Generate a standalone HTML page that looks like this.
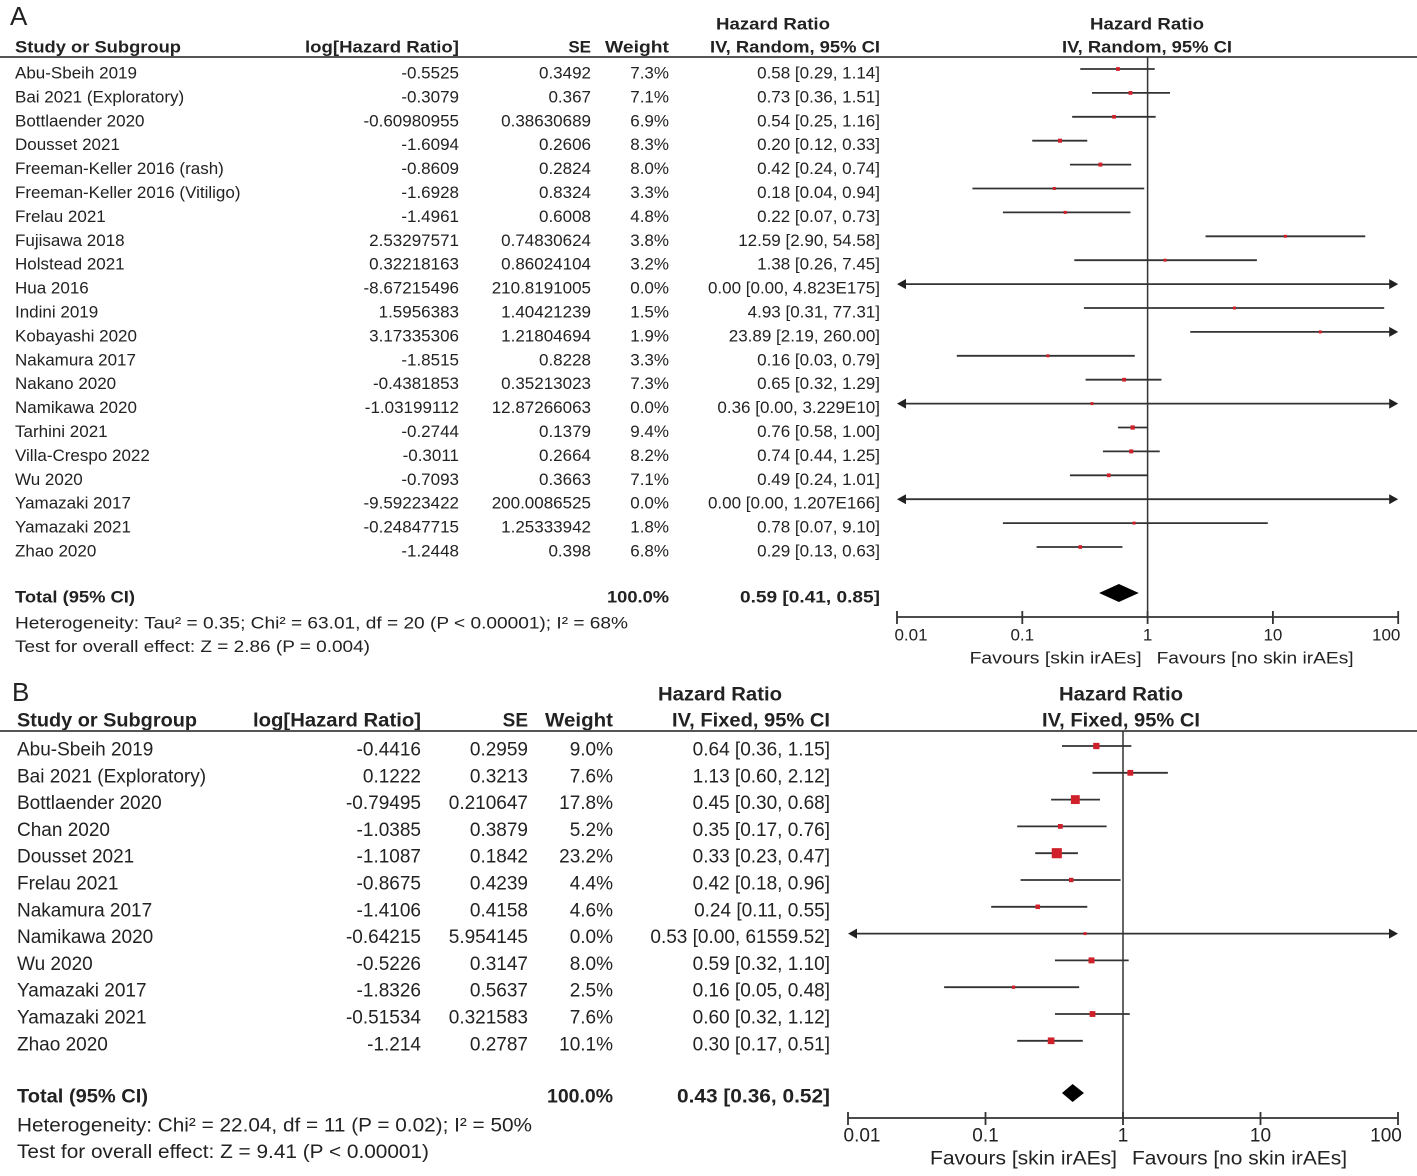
<!DOCTYPE html>
<html><head><meta charset="utf-8"><style>
body{margin:0;background:#fff}
svg{display:block}
text{font-family:"Liberation Sans",sans-serif;fill:#222}
.b{font-weight:bold}
</style></head><body>
<svg id="s" width="1417" height="1176" viewBox="0 0 1417 1176" xmlns="http://www.w3.org/2000/svg"></svg>
<script>
// ===== Panel A data =====
const studiesA=["Abu-Sbeih 2019","Bai 2021 (Exploratory)","Bottlaender 2020","Dousset 2021","Freeman-Keller 2016 (rash)","Freeman-Keller 2016 (Vitiligo)","Frelau 2021","Fujisawa 2018","Holstead 2021","Hua 2016","Indini 2019","Kobayashi 2020","Nakamura 2017","Nakano 2020","Namikawa 2020","Tarhini 2021","Villa-Crespo 2022","Wu 2020","Yamazaki 2017","Yamazaki 2021","Zhao 2020"];
const logA=["-0.5525","-0.3079","-0.60980955","-1.6094","-0.8609","-1.6928","-1.4961","2.53297571","0.32218163","-8.67215496","1.5956383","3.17335306","-1.8515","-0.4381853","-1.03199112","-0.2744","-0.3011","-0.7093","-9.59223422","-0.24847715","-1.2448"];
const seA=["0.3492","0.367","0.38630689","0.2606","0.2824","0.8324","0.6008","0.74830624","0.86024104","210.8191005","1.40421239","1.21804694","0.8228","0.35213023","12.87266063","0.1379","0.2664","0.3663","200.0086525","1.25333942","0.398"];
const weightA=[7.3,7.1,6.9,8.3,8.0,3.3,4.8,3.8,3.2,0.0,1.5,1.9,3.3,7.3,0.0,9.4,8.2,7.1,0.0,1.8,6.8];
const hrA=[0.58,0.73,0.54,0.20,0.42,0.18,0.22,12.59,1.38,0.0001,4.93,23.89,0.16,0.65,0.36,0.76,0.74,0.49,0.0001,0.78,0.29];
const loA=[0.29,0.36,0.25,0.12,0.24,0.04,0.07,2.90,0.26,0.00001,0.31,2.19,0.03,0.32,0.00001,0.58,0.44,0.24,0.00001,0.07,0.13];
const hiA=[1.14,1.51,1.16,0.33,0.74,0.94,0.73,54.58,7.45,1e175,77.31,260.00,0.79,1.29,3.229e10,1.00,1.25,1.01,1e166,9.10,0.63];
const ciTextA=["0.58 [0.29, 1.14]","0.73 [0.36, 1.51]","0.54 [0.25, 1.16]","0.20 [0.12, 0.33]","0.42 [0.24, 0.74]","0.18 [0.04, 0.94]","0.22 [0.07, 0.73]","12.59 [2.90, 54.58]","1.38 [0.26, 7.45]","0.00 [0.00, 4.823E175]","4.93 [0.31, 77.31]","23.89 [2.19, 260.00]","0.16 [0.03, 0.79]","0.65 [0.32, 1.29]","0.36 [0.00, 3.229E10]","0.76 [0.58, 1.00]","0.74 [0.44, 1.25]","0.49 [0.24, 1.01]","0.00 [0.00, 1.207E166]","0.78 [0.07, 9.10]","0.29 [0.13, 0.63]"];
const totalA=[0.59,0.41,0.85];
// ===== Panel B data =====
const studiesB=["Abu-Sbeih 2019","Bai 2021 (Exploratory)","Bottlaender 2020","Chan 2020","Dousset 2021","Frelau 2021","Nakamura 2017","Namikawa 2020","Wu 2020","Yamazaki 2017","Yamazaki 2021","Zhao 2020"];
const logB=["-0.4416","0.1222","-0.79495","-1.0385","-1.1087","-0.8675","-1.4106","-0.64215","-0.5226","-1.8326","-0.51534","-1.214"];
const seB=["0.2959","0.3213","0.210647","0.3879","0.1842","0.4239","0.4158","5.954145","0.3147","0.5637","0.321583","0.2787"];
const weightB=[9.0,7.6,17.8,5.2,23.2,4.4,4.6,0.0,8.0,2.5,7.6,10.1];
const hrB=[0.64,1.13,0.45,0.35,0.33,0.42,0.24,0.53,0.59,0.16,0.60,0.30];
const loB=[0.36,0.60,0.30,0.17,0.23,0.18,0.11,0.00001,0.32,0.05,0.32,0.17];
const hiB=[1.15,2.12,0.68,0.76,0.47,0.96,0.55,61559.52,1.10,0.48,1.12,0.51];
const ciTextB=["0.64 [0.36, 1.15]","1.13 [0.60, 2.12]","0.45 [0.30, 0.68]","0.35 [0.17, 0.76]","0.33 [0.23, 0.47]","0.42 [0.18, 0.96]","0.24 [0.11, 0.55]","0.53 [0.00, 61559.52]","0.59 [0.32, 1.10]","0.16 [0.05, 0.48]","0.60 [0.32, 1.12]","0.30 [0.17, 0.51]"];
const totalB=[0.43,0.36,0.52];
const ticks=[0.01,0.1,1,10,100];
const tickLabels=["0.01","0.1","1","10","100"];

const svg=document.getElementById('s');
const NS="http://www.w3.org/2000/svg";
function mk(tag,attrs,txt){const e=document.createElementNS(NS,tag);for(const k in attrs)e.setAttribute(k,attrs[k]);if(txt!==undefined)e.textContent=txt;svg.appendChild(e);return e;}
function T(x,y,s,size,anchor,bold,len){const a={x:x,y:y,'font-size':size,'text-anchor':anchor||'start','dominant-baseline':'central'};if(bold)a['class']='b';if(len){a.textLength=len;a.lengthAdjust='spacingAndGlyphs';}const e=mk('text',a,s);return e;}

function panel(P){
  const sx=v=>P.x0+(Math.log10(v)+2)*P.dec;
  const xmin=P.x0, xmax=P.x0+4*P.dec;
  let e;
  e=T(P.labX,P.labY,P.label,26,'start',false);
  
  
  const hs=[[P.hr1x,P.hy1,'Hazard Ratio',P.hr1w,'middle'],[P.hr2x,P.hy1,'Hazard Ratio',P.hr1w,'middle'],[P.m1x,P.hy2,P.method,P.mw,'middle'],[P.hr2x,P.hy2,P.method,P.mw,'middle'],
    [P.c0,P.hy2,'Study or Subgroup',P.sw,'start'],[P.c1,P.hy2,'log[Hazard Ratio]',P.lw,'end'],[P.c2,P.hy2,'SE',null,'end'],[P.c3,P.hy2,'Weight',P.ww,'end']];
  hs.forEach((q,i)=>{e=T(q[0],q[1],q[2],P.fs,q[4],true,q[3]);
    
    });
  e=mk('line',{x1:0,y1:P.lineY,x2:1417,y2:P.lineY,stroke:'#555','stroke-width':2});
  
  
  e=mk('line',{x1:sx(1),y1:P.lineY,x2:sx(1),y2:P.axY,stroke:'#333','stroke-width':1.5});
  
  
  P.studies.forEach((s,i)=>{
    const y=P.y0+i*P.step;
    e=T(P.c0,y,s,P.fs,'start',false);
    
    
    e=T(P.c1,y,P.log[i],P.fs,'end');
    
    
    e=T(P.c2,y,P.se[i],P.fs,'end');
    
    
    e=T(P.c3,y,P.w[i].toFixed(1)+'%',P.fs,'end');
    
    
    e=T(P.c4,y,P.ci[i],P.fs,'end');
    
    
    const ly=y-4;
    const la=P.lo[i]<0.01, ra=P.hi[i]>100;
    const x1=la?xmin:sx(P.lo[i]), x2=ra?xmax:sx(P.hi[i]);
    e=mk('line',{x1:x1+(la?4:0),y1:ly,x2:x2-(ra?4:0),y2:ly,stroke:'#333','stroke-width':1.8});
    
    
    if(la){e=mk('polygon',{points:`${xmin},${ly} ${xmin+9},${ly-5} ${xmin+9},${ly+5}`,fill:'#222'});
      
      }
    if(ra){e=mk('polygon',{points:`${xmax},${ly} ${xmax-9},${ly-5} ${xmax-9},${ly+5}`,fill:'#222'});
      
      }
    if(P.hr[i]>=0.01){
      const sz=Math.max(3,P.sq*Math.sqrt(P.w[i]));
      e=mk('rect',{x:sx(P.hr[i])-sz/2,y:ly-sz/2,width:sz,height:sz,fill:'#d0202a'});
      
      
    }
  });
  e=T(P.c0,P.ty,'Total (95% CI)',P.fs,'start',true,P.totw);
  
  
  e=T(P.c3,P.ty,'100.0%',P.fs,'end',true,P.pw);
  
  
  e=T(P.c4,P.ty,P.totText,P.fs,'end',true,P.tcw);
  
  
  const dy=P.ty-4, t=P.total;
  e=mk('polygon',{points:`${sx(t[1])},${dy} ${sx(t[0])},${dy-9} ${sx(t[2])},${dy} ${sx(t[0])},${dy+9}`,fill:'#000'});
  
  
  e=T(P.c0,P.ty+P.step*1.08,P.het,P.fs,'start',false,P.hetw);
  
  
  e=T(P.c0,P.ty+P.step*2.08,P.test,P.fs,'start',false,P.testw);
  
  
  e=mk('line',{x1:xmin,y1:P.axY,x2:xmax,y2:P.axY,stroke:'#333','stroke-width':1.8});
  
  
  ticks.forEach((v,i)=>{
    e=mk('line',{x1:sx(v),y1:P.axY-6,x2:sx(v),y2:P.axY+7,stroke:'#333','stroke-width':1.8});
    
    
    e=T(sx(v)+(i===0?14:i===4?-12:0),P.axY+18,tickLabels[i],P.fs,'middle');
    
    
  });
  e=T(sx(1)-6,P.axY+41,'Favours [skin irAEs]',P.fs,'end',false,P.fw1);
  
  
  e=T(sx(1)+9,P.axY+41,'Favours [no skin irAEs]',P.fs,'start',false,P.fw2);
  
  
}

panel({label:'A',labX:10,labY:16,fs:17,studies:studiesA,log:logA,se:seA,w:weightA,hr:hrA,lo:loA,hi:hiA,ci:ciTextA,total:totalA,
  x0:897,dec:125.3,y0:73,step:23.9,lineY:57,axY:617,hy1:24,hy2:47,
  c0:15,c1:459,c2:591,c3:669,c4:880,hr1x:773,m1x:795,hr2x:1147,hr1w:114,method:'IV, Random, 95% CI',mw:170,sw:166,lw:154,ww:64,
  ty:597,totw:120,pw:62,tcw:140,totText:'0.59 [0.41, 0.85]',sq:1.4,fw1:172,fw2:197,
  het:'Heterogeneity: Tau² = 0.35; Chi² = 63.01, df = 20 (P < 0.00001); I² = 68%',hetw:613,
  test:'Test for overall effect: Z = 2.86 (P = 0.004)',testw:355});
panel({label:'B',labX:12,labY:692,fs:19,studies:studiesB,log:logB,se:seB,w:weightB,hr:hrB,lo:loB,hi:hiB,ci:ciTextB,total:totalB,
  x0:848,dec:137.5,y0:750,step:26.8,lineY:731,axY:1118,hy1:695,hy2:721,
  c0:17,c1:421,c2:528,c3:613,c4:830,hr1x:720,m1x:751,hr2x:1121,hr1w:124,method:'IV, Fixed, 95% CI',mw:158,sw:180,lw:168,ww:68,
  ty:1097,totw:131,pw:66,tcw:153,totText:'0.43 [0.36, 0.52]',sq:2.1,fw1:187,fw2:215,
  het:'Heterogeneity: Chi² = 22.04, df = 11 (P = 0.02); I² = 50%',hetw:515,
  test:'Test for overall effect: Z = 9.41 (P < 0.00001)',testw:412});
</script>
</body></html>
